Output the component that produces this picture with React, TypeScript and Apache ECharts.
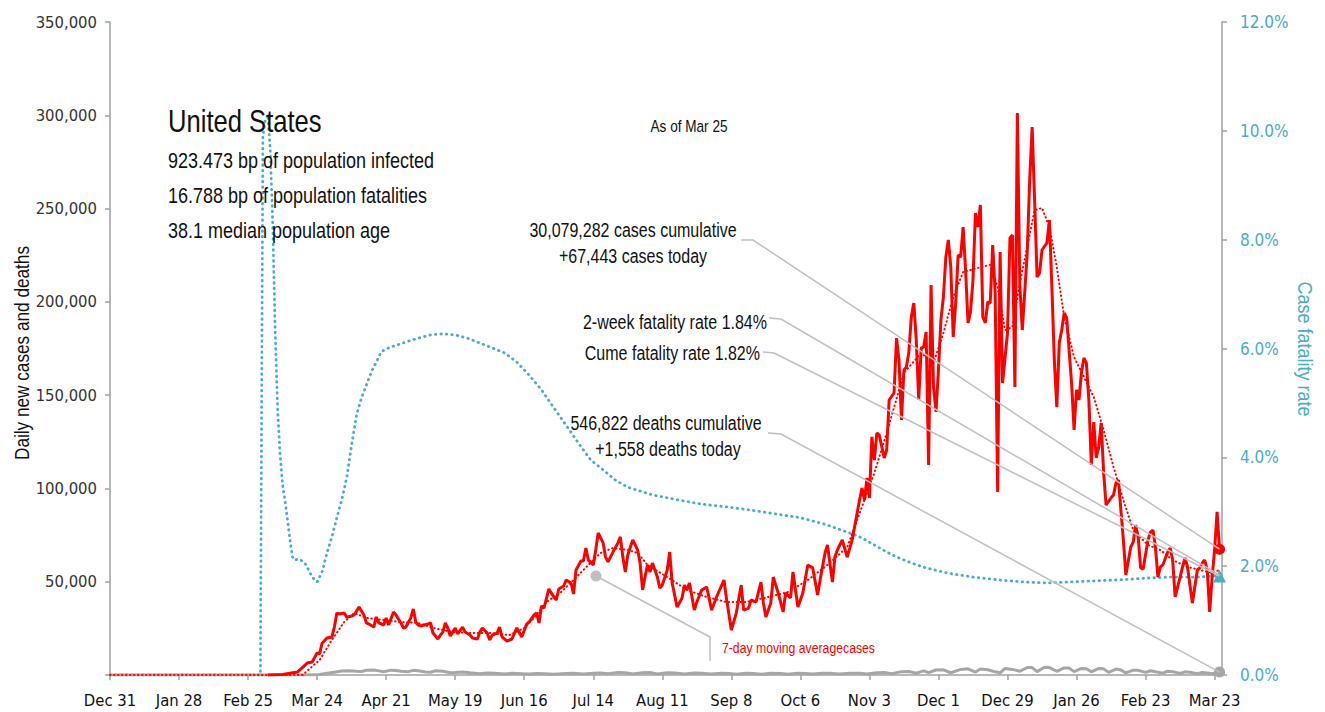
import { useEffect, useRef } from 'react';
import * as echarts from 'echarts';

// x values are day offsets from Dec 31, 2019
const xTickLabels = ['Dec 31', 'Jan 28', 'Feb 25', 'Mar 24', 'Apr 21', 'May 19', 'Jun 16', 'Jul 14', 'Aug 11', 'Sep 8', 'Oct 6', 'Nov 3', 'Dec 1', 'Dec 29', 'Jan 26', 'Feb 23', 'Mar 23'];
const xTickStep = 28;
const xMax = 451;

const dailyCases: [number, number][] = [
  [64, 0], [70, 300], [76, 1600], [80, 6400], [82, 7000], [84, 11800], [85, 11300], [86, 17000], [88, 19800], [90, 20400], [91, 25700], [92, 33200], [93, 32700], [95, 33200], [96, 31000], [98, 31600], [99, 32200], [101, 36400], [103, 32200], [104, 27900], [105, 27300], [107, 25700], [108, 31100], [109, 27900], [111, 26800], [112, 30600], [113, 26800], [115, 33800], [116, 32200], [118, 27900], [119, 25200], [120, 25700], [122, 30600], [123, 35400], [124, 28400], [125, 26800], [126, 26300], [129, 27300], [130, 27900], [131, 22500], [133, 19300], [134, 21400], [135, 23000], [136, 27900], [137, 25200], [138, 20900], [139, 23000], [140, 25200], [141, 22000], [143, 25700], [144, 23000], [146, 21400], [147, 19800], [149, 19300], [150, 23000], [151, 25200], [153, 22500], [154, 18800], [155, 21400], [157, 22500], [158, 25700], [159, 20400], [161, 18200], [163, 19300], [165, 25200], [167, 20400], [169, 27300], [170, 28400], [172, 32200], [173, 33200], [174, 27900], [175, 37000], [176, 35900], [178, 46100], [180, 41800], [181, 40200], [182, 46100], [184, 47700], [185, 50900], [187, 49300], [188, 43400], [189, 56300], [191, 61100], [192, 61100], [193, 68100], [194, 61600], [196, 59000], [197, 67000], [198, 76100], [200, 70800], [201, 63200], [202, 60600], [204, 65900], [206, 70800], [207, 74000], [208, 63200], [209, 55200], [210, 64300], [212, 72400], [214, 67000], [215, 60000], [216, 45600], [217, 52500], [218, 59000], [219, 55200], [220, 60000], [222, 52500], [223, 46600], [224, 48200], [226, 56300], [227, 65900], [228, 49300], [230, 36400], [232, 41300], [233, 48200], [234, 45600], [235, 49300], [237, 34800], [238, 39100], [240, 45600], [242, 47200], [244, 34800], [246, 41800], [249, 50900], [250, 41300], [252, 24100], [254, 33200], [256, 48200], [257, 34800], [259, 35900], [260, 40200], [262, 39100], [264, 49800], [265, 38600], [266, 31100], [268, 38600], [269, 52500], [271, 44000], [273, 33800], [274, 44000], [276, 41300], [277, 55200], [279, 36400], [281, 44000], [283, 59000], [285, 57400], [287, 42900], [288, 50900], [290, 65400], [291, 69700], [293, 49800], [294, 63200], [295, 67000], [297, 72400], [299, 63200], [301, 72400], [304, 93800], [305, 100200], [306, 93800], [307, 105600], [308, 94900], [309, 127600], [310, 115200], [311, 129700], [312, 128600], [314, 116300], [315, 120600], [316, 147400], [318, 151200], [319, 180600], [320, 168800], [321, 136700], [322, 163500], [323, 165100], [324, 173100], [325, 191900], [326, 199400], [327, 179600], [328, 147400], [329, 175300], [330, 175800], [331, 183800], [332, 112600], [333, 209000], [334, 154400], [335, 141000], [336, 163500], [337, 190300], [338, 202600], [339, 224000], [340, 233200], [341, 218700], [342, 181200], [343, 199400], [344, 225100], [345, 224000], [346, 240100], [347, 217100], [348, 188700], [349, 194600], [350, 211700], [351, 247600], [352, 240100], [353, 251900], [354, 191900], [355, 188700], [356, 199900], [357, 199400], [358, 230500], [359, 204800], [360, 98100], [361, 226700], [362, 156500], [364, 183300], [365, 234200], [366, 235800], [367, 154400], [368, 301200], [369, 209000], [370, 184900], [372, 226200], [373, 265300], [374, 293700], [375, 254600], [376, 213300], [377, 215500], [378, 227800], [380, 231600], [381, 243900], [382, 208000], [383, 168800], [384, 143600], [385, 178000], [386, 184900], [387, 194000], [388, 191400], [390, 156500], [391, 131300], [392, 152800], [393, 147400], [394, 162400], [395, 169900], [396, 167200], [397, 147400], [398, 112600], [399, 135600], [400, 116300], [401, 122200], [402, 135100], [403, 108300], [404, 91100], [406, 95000], [407, 96500], [408, 103000], [409, 104500], [410, 88400], [411, 72400], [412, 53600], [414, 68600], [415, 71300], [416, 80400], [417, 74000], [418, 57400], [419, 56800], [421, 72400], [422, 76600], [423, 77700], [424, 68600], [425, 52500], [426, 57900], [427, 59000], [429, 65900], [430, 68100], [431, 61600], [432, 41800], [434, 52500], [435, 57900], [436, 62700], [437, 57900], [439, 38600], [441, 56300], [442, 57400], [443, 60000], [444, 61600], [445, 56300], [446, 33800], [447, 52500], [448, 67000], [449, 87400], [450, 67443],
];

const avgCases: [number, number][] = [
  [0, 0], [78, 0], [79, 1100], [85, 8000], [90, 18800], [95, 28400], [99, 33200], [104, 30600], [111, 29500], [118, 28400], [125, 27900], [131, 25200], [139, 23000], [147, 22500], [155, 22500], [162, 21400], [168, 25200], [172, 30600], [177, 39100], [183, 44500], [188, 50900], [194, 59000], [199, 65400], [204, 68100], [210, 67000], [214, 65400], [218, 59000], [226, 52500], [234, 45600], [242, 41800], [250, 39100], [258, 39100], [267, 41800], [275, 44500], [283, 50900], [291, 59000], [299, 68600], [310, 108300], [315, 129700], [322, 161900], [329, 172600], [334, 167200], [338, 183300], [342, 202600], [346, 216000], [352, 218200], [357, 219800], [360, 208000], [363, 184900], [366, 186500], [369, 210100], [372, 229400], [375, 249200], [378, 250300], [381, 240100], [384, 218700], [387, 191900], [391, 170400], [395, 159700], [399, 149000], [403, 131300], [407, 111500], [411, 93800], [415, 77700], [421, 69700], [426, 67000], [431, 61600], [437, 57900], [442, 56300], [447, 54700], [450, 56300],
];

const dailyDeaths: [number, number][] = [
  [0, 0], [80, 0], [85, 300], [88, 900], [91, 1500], [94, 2100], [97, 2300], [100, 2000], [102, 1900], [104, 2500], [107, 2700], [109, 2200], [111, 1700], [114, 2600], [116, 2400], [118, 2000], [121, 1800], [123, 2500], [125, 2300], [128, 1600], [130, 1500], [132, 2300], [135, 2000], [138, 1200], [140, 1300], [143, 1600], [146, 1200], [150, 700], [153, 1100], [156, 1000], [160, 500], [163, 900], [167, 700], [170, 500], [173, 800], [176, 700], [180, 400], [185, 800], [188, 900], [192, 600], [196, 1000], [199, 1100], [202, 700], [206, 1300], [209, 1200], [212, 600], [216, 1200], [219, 1300], [222, 600], [226, 1200], [229, 1100], [233, 600], [237, 1100], [240, 1000], [244, 500], [248, 1000], [251, 800], [254, 400], [258, 900], [261, 800], [264, 400], [268, 900], [272, 800], [275, 400], [279, 900], [282, 800], [285, 500], [289, 900], [292, 900], [296, 500], [300, 1000], [304, 1000], [307, 500], [311, 1200], [314, 1300], [317, 700], [321, 1800], [324, 1900], [327, 1000], [330, 2200], [332, 1300], [335, 2700], [338, 2800], [341, 1200], [345, 3000], [348, 3300], [351, 1600], [353, 3200], [356, 2800], [359, 1700], [361, 1200], [363, 3500], [366, 3000], [369, 2000], [372, 4000], [374, 4000], [376, 1800], [379, 4200], [381, 4000], [384, 2000], [387, 3800], [389, 3700], [391, 1800], [394, 3500], [396, 3400], [398, 1700], [401, 3500], [403, 3300], [405, 1400], [408, 3200], [410, 2700], [412, 1100], [415, 2600], [417, 2500], [420, 1400], [422, 2300], [424, 1700], [427, 1000], [429, 2000], [431, 1800], [434, 800], [436, 1700], [438, 1500], [441, 700], [443, 1300], [445, 1100], [447, 700], [449, 1200], [450, 1558],
];

// case fatality rate, percent
const fatalityRate: [number, number][] = [
  [0, 0], [61, 0], [62, 9.9], [63, 10.2], [64, 10.3], [65, 9.65], [66, 8.3], [67, 6.3], [68, 4.87], [69, 4.04], [70, 3.5], [71, 3.2], [72, 2.85], [73, 2.48], [74, 2.17], [75, 2.11], [76, 2.13], [77, 2.11], [78, 2.1], [79, 2.06], [80, 1.98], [81, 1.89], [82, 1.8], [83, 1.75], [84, 1.71], [86, 1.89], [88, 2.24], [90, 2.54], [92, 2.89], [94, 3.22], [96, 3.62], [98, 4.23], [100, 4.78], [102, 5.09], [104, 5.33], [106, 5.57], [108, 5.75], [110, 5.94], [113, 6.01], [116, 6.06], [120, 6.12], [125, 6.19], [130, 6.25], [135, 6.27], [140, 6.25], [145, 6.19], [150, 6.1], [155, 6.01], [160, 5.92], [165, 5.75], [170, 5.51], [175, 5.24], [180, 4.91], [185, 4.59], [190, 4.26], [195, 3.95], [200, 3.77], [205, 3.58], [210, 3.45], [220, 3.31], [230, 3.22], [240, 3.14], [250, 3.09], [260, 3.03], [270, 2.96], [280, 2.89], [290, 2.77], [300, 2.61], [305, 2.52], [310, 2.39], [315, 2.26], [320, 2.15], [325, 2.06], [330, 1.98], [340, 1.87], [350, 1.8], [360, 1.75], [370, 1.71], [380, 1.69], [390, 1.71], [400, 1.73], [410, 1.75], [420, 1.78], [430, 1.8], [440, 1.8], [450, 1.82],
];

const latest = { day: 450, cases: 67443, deaths: 1558, twoWeekRate: 1.84, cumeRate: 1.82 };

const AXIS_FONT = '"DejaVu Sans Condensed", "Liberation Sans", sans-serif';
const ANN_FONT = '"Liberation Sans", Arial, sans-serif';
const CONDENSE = 0.8;
const RED = '#FF0000';
const BLUE = '#4BACC6';
const GRAY = '#A6A6A6';
const LEAD = '#BFBFBF';
const AXIS = '#A0A0A0';

const xTickValues = xTickLabels.map((_, i) => i * xTickStep);

function text(t: string, x: number, y: number, size: number, align = 'left', fill = '#111', extra: any = {}) {
  return {
    type: 'text', x, y, z: 100, silent: true, scaleX: CONDENSE, ...extra,
    style: { text: t, fill, fontSize: size, fontFamily: ANN_FONT, align, verticalAlign: 'middle', textAlign: align, textVerticalAlign: 'middle' },
  };
}

export default function App() {
  const ref = useRef<HTMLDivElement>(null);
  useEffect(() => {
    document.body.style.margin = '0';
    const chart = echarts.init(ref.current!, null, { renderer: 'svg' });
    const option: any = {
      animation: false,
      backgroundColor: '#fff',
      grid: { left: 110, right: 103, top: 22, bottom: 37, containLabel: false },
      xAxis: {
        type: 'value', min: 0, max: xMax,
        splitLine: { show: false },
        axisLine: { show: true, lineStyle: { color: AXIS, width: 1.5 } },
        axisTick: { show: true, length: 5, lineStyle: { color: AXIS, width: 1.5 }, customValues: xTickValues },
        axisLabel: {
          customValues: xTickValues, margin: 17, color: '#111', fontSize: 16.5, fontFamily: AXIS_FONT,
          formatter: (v: number) => xTickLabels[Math.round(v / xTickStep)] ?? '',
        },
      },
      yAxis: [
        {
          type: 'value', min: 0, max: 350000, interval: 50000, position: 'left',
          splitLine: { show: false },
          axisLine: { show: true, lineStyle: { color: AXIS, width: 1.5 } },
          axisTick: { show: true, length: 5, lineStyle: { color: AXIS, width: 1.5 } },
          axisLabel: {
            margin: 13, color: '#333', fontSize: 16.5, fontFamily: AXIS_FONT,
            formatter: (v: number) => (v === 0 ? '' : v.toLocaleString('en-US')),
          },
        },
        {
          type: 'value', min: 0, max: 12, interval: 2, position: 'right',
          splitLine: { show: false },
          axisLine: { show: true, lineStyle: { color: AXIS, width: 1.5 } },
          axisTick: { show: true, length: 5, lineStyle: { color: AXIS, width: 1.5 } },
          axisLabel: { margin: 18, color: BLUE, fontSize: 17, fontFamily: AXIS_FONT, formatter: (v: number) => v.toFixed(1) + '%' },
        },
      ],
      series: [
        {
          name: 'Case fatality rate', type: 'line', yAxisIndex: 1, data: fatalityRate, showSymbol: false, z: 2,
          lineStyle: { color: BLUE, width: 2.8, type: [0.5, 5], cap: 'round' },
          markPoint: { symbol: 'triangle', symbolSize: 13, itemStyle: { color: BLUE }, label: { show: false }, data: [{ coord: fatalityRate[fatalityRate.length - 1] }] },
        },
        {
          name: 'Daily deaths', type: 'line', data: dailyDeaths, showSymbol: false, z: 3,
          lineStyle: { color: GRAY, width: 3 },
          markPoint: { symbol: 'circle', symbolSize: 11, itemStyle: { color: GRAY }, label: { show: false }, data: [{ coord: dailyDeaths[dailyDeaths.length - 1] }] },
        },
        {
          name: 'Daily cases', type: 'line', data: dailyCases, showSymbol: false, z: 4,
          lineStyle: { color: RED, width: 3 },
          markPoint: { symbol: 'circle', symbolSize: 11, itemStyle: { color: RED }, label: { show: false }, data: [{ coord: dailyCases[dailyCases.length - 1] }] },
        },
        {
          name: '7-day moving average cases', type: 'line', data: avgCases, showSymbol: false, z: 5,
          lineStyle: { color: RED, width: 2, type: [0.5, 3.5], cap: 'round' },
        },
      ],
    };
    chart.setOption(option);

    const px = (x: number, y: number, yi: number) => chart.convertToPixel({ xAxisIndex: 0, yAxisIndex: yi } as any, [x, y]) as number[];
    const casesEnd = px(latest.day, latest.cases, 0);
    const deathsEnd = px(latest.day, latest.deaths, 0);
    const twoWeekEnd = px(latest.day, latest.twoWeekRate, 1);
    const cumeEnd = px(latest.day, latest.cumeRate, 1);
    const lead = (pts: number[][]) => ({ type: 'polyline', z: 50, silent: true, shape: { points: pts }, style: { stroke: LEAD, lineWidth: 1.5, fill: null } });

    chart.setOption({
      graphic: [
        lead([[741, 240], [753, 240], casesEnd]),
        lead([[769, 318], [781, 319], twoWeekEnd]),
        lead([[763, 352], [774, 353], cumeEnd]),
        lead([[768, 433], [781, 434], deathsEnd]),
        { type: 'circle', z: 50, silent: true, shape: { cx: 596, cy: 576, r: 5.5 }, style: { fill: LEAD } },
        lead([[596, 576], [710, 637], [710, 661]]),
        text('United States', 168, 121, 32),
        text('923.473 bp of population infected', 168, 160, 22.5),
        text('16.788 bp of population fatalities', 168, 195, 22.5),
        text('38.1 median population age', 168, 230, 22.5),
        text('As of Mar 25', 689, 126, 17, 'center'),
        text('30,079,282 cases cumulative', 633, 230, 20, 'center'),
        text('+67,443 cases today', 633, 256, 20, 'center'),
        text('2-week fatality rate 1.84%', 767, 322, 20, 'right'),
        text('Cume fatality rate 1.82%', 760, 353, 20, 'right'),
        text('546,822 deaths cumulative', 666, 423, 20, 'center'),
        text('+1,558 deaths today', 668, 449, 20, 'center'),
        text('7-day moving averagecases', 722, 647, 15.3, 'left', RED),
        text('Daily new cases and deaths', 22, 353, 20, 'center', '#111', { rotation: Math.PI / 2, scaleX: 0.86 }),
        text('Case fatality rate', 1305, 349, 20, 'center', BLUE, { rotation: -Math.PI / 2, scaleX: 0.9 }),
      ],
    });
    return () => chart.dispose();
  }, []);
  return <div ref={ref} style={{ width: 1325, height: 712 }} />;
}
